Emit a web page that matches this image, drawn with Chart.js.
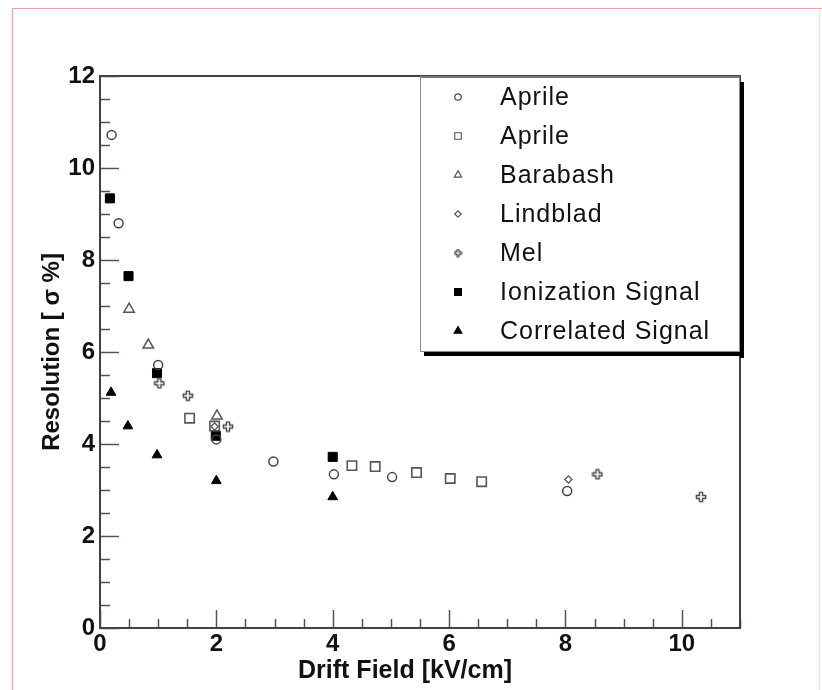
<!DOCTYPE html>
<html>
<head>
<meta charset="utf-8">
<title>Resolution vs Drift Field</title>
<script src="https://cdn.jsdelivr.net/npm/chart.js@4.4.0/dist/chart.umd.min.js"></script>
<style>
    html, body { margin: 0; padding: 0; background: #fff; }
    #wrap { width: 822px; height: 690px; }
</style>
</head>
<body>
<div id="wrap"><canvas id="resChart" width="822" height="690"></canvas></div>
<script>
// Valores (x = campo de deriva kV/cm, y = resolucion %)
const aprileCircX = [0.20, 0.32, 1.00, 2.00, 2.98, 4.02, 5.02, 8.03];
const aprileCircY = [10.72, 8.80, 5.72, 4.10, 3.62, 3.34, 3.28, 2.98];

const aprileSqX = [1.54, 1.97, 4.33, 4.73, 5.44, 6.02, 6.56];
const aprileSqY = [4.56, 4.39, 3.53, 3.51, 3.38, 3.25, 3.18];

const barabashX = [0.50, 0.83, 2.01];
const barabashY = [6.93, 6.15, 4.61];

const lindbladX = [1.97, 8.05];
const lindbladY = [4.38, 3.23];

const melX = [1.02, 1.51, 2.20, 8.55, 10.33];
const melY = [5.32, 5.05, 4.38, 3.34, 2.85];

const ionX = [0.17, 0.49, 0.98, 1.99, 4.00];
const ionY = [9.34, 7.65, 5.54, 4.18, 3.72];

const corrX = [0.19, 0.48, 0.98, 2.00, 4.00];
const corrY = [5.12, 4.39, 3.76, 3.20, 2.85];

const seriesLabels = ['Aprile', 'Aprile', 'Barabash', 'Lindblad', 'Mel', 'Ionization Signal', 'Correlated Signal'];

// Ejes
const xTickValues = [0, 2, 4, 6, 8, 10];
const yTickValues = [0, 2, 4, 6, 8, 10, 12];
const xRange = [0, 11];
const yRange = [0, 12];
const minorStep = 0.5;
const xTitle = 'Drift Field [kV/cm]';
const yTitle = 'Resolution [ σ %]';

function toPoints(xs, ys) {
    return xs.map((x, i) => ({ x: x, y: ys[i] }));
}

// Cruz hueca (marcador de Mel), dibujada en un canvas pequeño
function makeOpenCross(size, lw) {
    const c = document.createElement('canvas');
    c.width = size;
    c.height = size;
    const g = c.getContext('2d');
    const s = size - lw * 2;
    const o = lw;
    const a = s / 3;
    g.beginPath();
    g.moveTo(o + a, o);
    g.lineTo(o + 2 * a, o);
    g.lineTo(o + 2 * a, o + a);
    g.lineTo(o + s, o + a);
    g.lineTo(o + s, o + 2 * a);
    g.lineTo(o + 2 * a, o + 2 * a);
    g.lineTo(o + 2 * a, o + s);
    g.lineTo(o + a, o + s);
    g.lineTo(o + a, o + 2 * a);
    g.lineTo(o, o + 2 * a);
    g.lineTo(o, o + a);
    g.lineTo(o + a, o + a);
    g.closePath();
    g.lineWidth = lw;
    g.strokeStyle = '#444';
    g.stroke();
    return c;
}

const melCross = makeOpenCross(12, 1.4);
const melCrossSmall = makeOpenCross(9, 1.2);

const hollow = 'rgba(0,0,0,0)';

const datasets = [
    { label: seriesLabels[0], data: toPoints(aprileCircX, aprileCircY), pointStyle: 'circle', pointRadius: 4.5, borderColor: '#444', backgroundColor: hollow, borderWidth: 1.5, legendRadius: 3.2 },
    { label: seriesLabels[1], data: toPoints(aprileSqX, aprileSqY), pointStyle: 'rect', pointRadius: 6.6, borderColor: '#555', backgroundColor: hollow, borderWidth: 1.6, legendRadius: 4.6 },
    { label: seriesLabels[2], data: toPoints(barabashX, barabashY), pointStyle: 'triangle', pointRadius: 6, borderColor: '#555', backgroundColor: hollow, borderWidth: 1.5, legendRadius: 4.2 },
    { label: seriesLabels[3], data: toPoints(lindbladX, lindbladY), pointStyle: 'rectRot', pointRadius: 3.6, borderColor: '#555', backgroundColor: hollow, borderWidth: 1.3, legendRadius: 3.2 },
    { label: seriesLabels[4], data: toPoints(melX, melY), pointStyle: melCross, pointRadius: 6, borderColor: '#444', backgroundColor: hollow, borderWidth: 1.5, legendStyle: melCrossSmall },
    { label: seriesLabels[5], data: toPoints(ionX, ionY), pointStyle: 'rect', pointRadius: 6.4, borderColor: '#000', backgroundColor: '#000', borderWidth: 1, legendRadius: 4.8 },
    { label: seriesLabels[6], data: toPoints(corrX, corrY), pointStyle: 'triangle', pointRadius: 5.6, borderColor: '#000', backgroundColor: '#000', borderWidth: 1, legendRadius: 4.4 }
];

// Fondo y marco rosado de la página
const pagePlugin = {
    id: 'pageFrame',
    beforeDraw(chart) {
        const ctx = chart.ctx;
        ctx.save();
        ctx.fillStyle = '#fff';
        ctx.fillRect(0, 0, chart.width, chart.height);
        ctx.strokeStyle = '#e6a4a4';
        ctx.lineWidth = 1.2;
        ctx.beginPath();
        ctx.moveTo(12.5, chart.height);
        ctx.lineTo(12.5, 8.5);
        ctx.lineTo(chart.width, 8.5);
        ctx.stroke();
        ctx.strokeStyle = '#f6dede';
        ctx.beginPath();
        ctx.moveTo(819.5, 8.5);
        ctx.lineTo(819.5, chart.height);
        ctx.stroke();
        ctx.restore();
    }
};

// Marco del grafico, marcas hacia dentro (estilo ROOT) y titulo del eje x
const framePlugin = {
    id: 'rootFrame',
    afterDatasetsDraw(chart) {
        const ctx = chart.ctx;
        const a = chart.chartArea;
        const xs = chart.scales.x;
        const ys = chart.scales.y;
        ctx.save();
        ctx.strokeStyle = '#5a5050';
        ctx.lineWidth = 1.5;
        for (let v = xRange[0]; v <= xRange[1] + 1e-9; v += minorStep) {
            const px = Math.round(xs.getPixelForValue(v)) + 0.5;
            const len = Math.abs(v % 2) < 1e-9 ? 18 : 9;
            ctx.beginPath();
            ctx.moveTo(px, a.bottom);
            ctx.lineTo(px, a.bottom - len);
            ctx.stroke();
        }
        for (let v = yRange[0]; v <= yRange[1] + 1e-9; v += minorStep) {
            const py = Math.round(ys.getPixelForValue(v)) + 0.5;
            const len = Math.abs(v % 2) < 1e-9 ? 19 : 10;
            ctx.beginPath();
            ctx.moveTo(a.left, py);
            ctx.lineTo(a.left + len, py);
            ctx.stroke();
        }
        ctx.strokeStyle = '#4a3f3f';
        ctx.lineWidth = 2;
        ctx.strokeRect(a.left, a.top, a.right - a.left, a.bottom - a.top);

        // titulo del eje x, algo a la izquierda del centro como en la figura
        ctx.fillStyle = '#111';
        ctx.font = 'bold 25px "Liberation Sans", Arial, sans-serif';
        ctx.textAlign = 'center';
        ctx.textBaseline = 'middle';
        ctx.fillText(xTitle, 405, 671);
        ctx.restore();
    }
};

// Leyenda con caja y sombra, dentro del area del grafico
const legendPlugin = {
    id: 'boxLegend',
    afterDraw(chart) {
        const ctx = chart.ctx;
        const a = chart.chartArea;
        const bx = 420, by = a.top, bw = a.right - 420, bh = 276;
        ctx.save();
        ctx.fillStyle = '#000';
        ctx.fillRect(bx + bw, by + 6, 4, bh);
        ctx.fillRect(bx + 4, by + bh, bw, 4);
        ctx.fillStyle = '#fff';
        ctx.fillRect(bx, by, bw, bh);
        ctx.strokeStyle = '#8a8a8a';
        ctx.lineWidth = 1;
        ctx.strokeRect(bx + 0.5, by + 0.5, bw - 1, bh - 1);
        ctx.strokeStyle = '#777';
        ctx.lineWidth = 2;
        ctx.beginPath();
        ctx.moveTo(bx, by + 1);
        ctx.lineTo(bx + bw, by + 1);
        ctx.stroke();

        ctx.font = '25px "Liberation Sans", Arial, sans-serif';
        if ('letterSpacing' in ctx) ctx.letterSpacing = '1px';
        ctx.textBaseline = 'middle';
        ctx.textAlign = 'left';
        chart.data.datasets.forEach((ds, i) => {
            const cy = by + 21 + i * 39;
            const cx = 458;
            if (ds.legendStyle) {
                ctx.drawImage(ds.legendStyle, cx - ds.legendStyle.width / 2, cy - ds.legendStyle.height / 2);
            } else if (Chart.helpers && Chart.helpers.drawPoint) {
                ctx.strokeStyle = ds.borderColor;
                ctx.fillStyle = ds.backgroundColor;
                ctx.lineWidth = 1.2;
                Chart.helpers.drawPoint(ctx, { pointStyle: ds.pointStyle, radius: ds.legendRadius, rotation: 0, borderWidth: 1.2 }, cx, cy);
            }
            ctx.fillStyle = '#111';
            ctx.fillText(ds.label, 500, cy + 1);
        });
        ctx.restore();
    }
};

const axisFont = { family: '"Liberation Sans", Arial, sans-serif', weight: 'bold' };

new Chart(document.getElementById('resChart'), {
    type: 'scatter',
    data: { datasets: datasets },
    plugins: [pagePlugin, framePlugin, legendPlugin],
    options: {
        responsive: false,
        animation: false,
        devicePixelRatio: 1,
        layout: { padding: { top: 76, right: 82, left: 0, bottom: 0 } },
        plugins: {
            legend: { display: false },
            tooltip: { enabled: false }
        },
        scales: {
            x: {
                type: 'linear',
                min: xRange[0],
                max: xRange[1],
                afterBuildTicks: (scale) => { scale.ticks = xTickValues.map(v => ({ value: v })); },
                afterFit: (scale) => { scale.height = 62; },
                grid: { display: false, drawTicks: false },
                border: { display: false },
                ticks: { padding: 2, color: '#111', font: Object.assign({ size: 24 }, axisFont) },
                title: { display: false }
            },
            y: {
                type: 'linear',
                min: yRange[0],
                max: yRange[1],
                afterBuildTicks: (scale) => { scale.ticks = yTickValues.map(v => ({ value: v })); },
                afterFit: (scale) => { scale.width = 100; },
                grid: { display: false, drawTicks: false },
                border: { display: false },
                ticks: { padding: 5, color: '#111', font: Object.assign({ size: 24 }, axisFont) },
                title: {
                    display: true,
                    text: yTitle,
                    color: '#111',
                    font: Object.assign({ size: 24 }, axisFont),
                    padding: { top: 38, bottom: 0 }
                }
            }
        }
    }
});
</script>
</body>
</html>
